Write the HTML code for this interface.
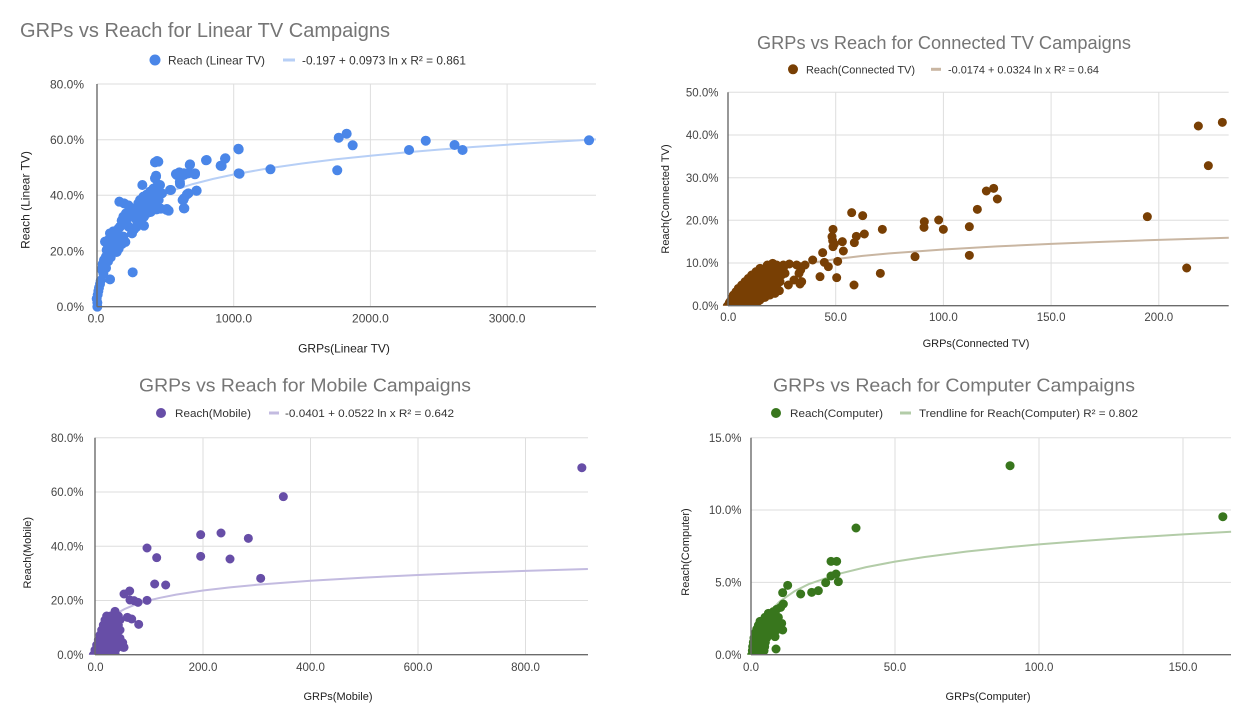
<!DOCTYPE html>
<html><head><meta charset="utf-8"><style>
html,body{margin:0;padding:0;background:#fff;}
svg{display:block;font-family:"Liberation Sans",Arial,sans-serif;}
.t{fill:#757575;}
.tk{fill:#444;}
.lg{fill:#333;}
.ax{fill:#222;}
.g{stroke:#dedede;stroke-width:1;}
.a{stroke:#6b6b6b;stroke-width:1.4;}
</style></head><body>
<svg width="1256" height="718" viewBox="0 0 1256 718" xmlns="http://www.w3.org/2000/svg">
<rect width="1256" height="718" fill="#fff"/>
<defs>
<clipPath id="c1"><rect x="80" y="70" width="530" height="237"/></clipPath>
<clipPath id="c2"><rect x="715" y="80" width="530" height="225.7"/></clipPath>
<clipPath id="c3"><rect x="85" y="425" width="520" height="229.7"/></clipPath>
<clipPath id="c4"><rect x="740" y="425" width="505" height="229.7"/></clipPath>
</defs>

<!-- ================= CHART 1: Linear TV ================= -->
<text class="t" x="20" y="37" font-size="20" textLength="370" lengthAdjust="spacingAndGlyphs">GRPs vs Reach for Linear TV Campaigns</text>
<circle cx="155" cy="60" r="5.5" fill="#4a86e8"/>
<text class="lg" x="168" y="64.3" font-size="12" textLength="97" lengthAdjust="spacingAndGlyphs">Reach (Linear TV)</text>
<line x1="283" y1="60" x2="295" y2="60" stroke="#b7cff6" stroke-width="3"/>
<text class="lg" x="302" y="64.3" font-size="12" textLength="164" lengthAdjust="spacingAndGlyphs">-0.197 + 0.0973 ln x R² = 0.861</text>
<g>
<line class="g" x1="97" y1="84" x2="596" y2="84"/>
<line class="g" x1="97" y1="139.7" x2="596" y2="139.7"/>
<line class="g" x1="97" y1="195.3" x2="596" y2="195.3"/>
<line class="g" x1="97" y1="251" x2="596" y2="251"/>
<line class="g" x1="233.7" y1="84" x2="233.7" y2="306.7"/>
<line class="g" x1="370.4" y1="84" x2="370.4" y2="306.7"/>
<line class="g" x1="507.1" y1="84" x2="507.1" y2="306.7"/>
</g>
<g class="tk" font-size="12" text-anchor="end">
<text x="84" y="88.3">80.0%</text>
<text x="84" y="144">60.0%</text>
<text x="84" y="199.6">40.0%</text>
<text x="84" y="255.3">20.0%</text>
<text x="84" y="311">0.0%</text>
</g>
<g class="tk" font-size="12" text-anchor="middle">
<text x="96" y="322.5">0.0</text>
<text x="233.7" y="322.5">1000.0</text>
<text x="370.4" y="322.5">2000.0</text>
<text x="507.1" y="322.5">3000.0</text>
</g>
<text class="ax" x="344" y="352.5" font-size="12" text-anchor="middle">GRPs(Linear TV)</text>
<text class="ax" transform="translate(29.5,200) rotate(-90)" font-size="12" text-anchor="middle">Reach (Linear TV)</text>
<polyline fill="none" stroke="#b7cff6" stroke-width="2" stroke-linejoin="round" points="98.03,306.7 98.37,299.2 99.73,280.4 103.84,255.6 110.67,236.8 124.34,218.1 138,207.1 151.68,199.3 172.2,190.6 192.69,184.1 213.2,178.9 233.7,174.5 267.9,168.4 302.05,163.5 336.2,159.3 370.4,155.7 404.6,152.5 438.75,149.6 472.9,147 507.1,144.7 548.1,142.1 595.95,139.4"/>
<g stroke="#4a86e8" stroke-linecap="round" fill="none">
<path transform="translate(40,60) scale(0.33333)" stroke-width="30" d="M172 740h.1M172 728h.1M170 716h.1M173 704h.1M175 693h.1M177 683h.1M180 672h.1M182 662h.1M210 658h.1M278 637h.1M185 628h.1M188 612h.1M192 600h.1M198 590h.1M204 604h.1M198 624h.1M190 640h.1M206 584h.1M212 592h.1M200 570h.1M195 545h.1M205 540h.1M216 548h.1M226 560h.1M236 566h.1M246 552h.1M256 546h.1M225 530h.1M240 540h.1M230 576h.1M215 570h.1M210 520h.1M220 514h.1M232 520h.1M250 530h.1M240 500h.1M250 490h.1M260 480h.1M266 500h.1M276 520h.1M282 508h.1M270 470h.1M280 460h.1M290 480h.1M300 470h.1M290 500h.1M300 440h.1M306 456h.1M312 470h.1M312 497h.1M320 460h.1M326 445h.1M332 456h.1M250 470h.1M245 482h.1M236 505h.1M258 460h.1M268 450h.1M285 445h.1M295 430h.1M238 425h.1M252 430h.1M265 436h.1M300 420h.1M310 410h.1M320 404h.1M330 395h.1M340 386h.1M350 380h.1M355 396h.1M345 410h.1M335 420h.1M325 430h.1M315 440h.1M360 375h.1M307 375h.1M340 430h.1M350 448h.1M362 446h.1M380 450h.1M386 452h.1M356 420h.1M366 400h.1M345 355h.1M348 350h.1M345 307h.1M355 305h.1M393 390h.1M410 345h.1M418 337h.1M432 345h.1M445 340h.1M465 340h.1M420 372h.1M470 392h.1M445 400h.1M432 415h.1M430 420h.1M433 445h.1M500 300h.1M545 318h.1M555 296h.1M450 313h.1M596 268h.1M596 340h.1"/>
<path stroke-width="10" d="M238.3 148.7h.1M239.5 173.7h.1M270.4 169.3h.1M337.2 170.3h.1M338.7 137.7h.1M346.6 133.7h.1M352.6 145.3h.1M409 150h.1M425.7 140.7h.1M454.5 145h.1M462.5 150h.1M589 140.3h.1M206 160.3h.1M220.6 165.7h.1M225.3 158.3h.1M194.9 174.3h.1M189.7 165h.1M196.4 190.7h.1M183.8 173.3h.1M179.8 181.7h.1M182.6 200h.1M187 194.3h.1M183.8 208.3h.1M175.9 174h.1M170 190h.1M166.8 209h.1M157 161h.1M156 175.7h.1"/>
</g>
<line class="a" x1="97" y1="84" x2="97" y2="306.7"/>
<line class="a" x1="97" y1="306.7" x2="596" y2="306.7"/>

<!-- ================= CHART 2: Connected TV ================= -->
<text class="t" x="757" y="49" font-size="18" textLength="374" lengthAdjust="spacingAndGlyphs">GRPs vs Reach for Connected TV Campaigns</text>
<circle cx="793" cy="69.3" r="5" fill="#783f04"/>
<text class="lg" x="806" y="73.3" font-size="11" textLength="109" lengthAdjust="spacingAndGlyphs">Reach(Connected TV)</text>
<line x1="931" y1="69.3" x2="941" y2="69.3" stroke="#c9b6a2" stroke-width="3"/>
<text class="lg" x="948" y="73.3" font-size="11" textLength="151" lengthAdjust="spacingAndGlyphs">-0.0174 + 0.0324 ln x R² = 0.64</text>
<g>
<line class="g" x1="728" y1="92.3" x2="1228.7" y2="92.3"/>
<line class="g" x1="728" y1="135" x2="1228.7" y2="135"/>
<line class="g" x1="728" y1="177.7" x2="1228.7" y2="177.7"/>
<line class="g" x1="728" y1="220.3" x2="1228.7" y2="220.3"/>
<line class="g" x1="728" y1="263" x2="1228.7" y2="263"/>
<line class="g" x1="835.7" y1="92.3" x2="835.7" y2="305.7"/>
<line class="g" x1="943.4" y1="92.3" x2="943.4" y2="305.7"/>
<line class="g" x1="1051.1" y1="92.3" x2="1051.1" y2="305.7"/>
<line class="g" x1="1158.8" y1="92.3" x2="1158.8" y2="305.7"/>
</g>
<g class="tk" font-size="11.5" text-anchor="end">
<text x="718.5" y="96.4">50.0%</text>
<text x="718.5" y="139.1">40.0%</text>
<text x="718.5" y="181.8">30.0%</text>
<text x="718.5" y="224.4">20.0%</text>
<text x="718.5" y="267.1">10.0%</text>
<text x="718.5" y="309.8">0.0%</text>
</g>
<g class="tk" font-size="11.5" text-anchor="middle">
<text x="728.3" y="321">0.0</text>
<text x="835.7" y="321">50.0</text>
<text x="943.4" y="321">100.0</text>
<text x="1051.1" y="321">150.0</text>
<text x="1158.8" y="321">200.0</text>
</g>
<text class="ax" x="976" y="347" font-size="11" text-anchor="middle">GRPs(Connected TV)</text>
<text class="ax" transform="translate(669,199) rotate(-90)" font-size="11" text-anchor="middle">Reach(Connected TV)</text>
<polyline fill="none" stroke="#c9b6a2" stroke-width="2" stroke-linejoin="round" points="730.7,305.7 732.3,303.5 738.8,290.9 749.5,281.3 758.2,276.7 771.1,271.7 786.2,267.5 803.4,264 835.7,259.1 862.6,255.9 889.6,253.4 943.4,249.5 997.25,246.4 1051.1,243.9 1105,241.7 1158.8,239.9 1228.8,237.8"/>
<g stroke="#783f04" stroke-linecap="round" fill="none" clip-path="url(#c2)">
<g transform="translate(650,60) scale(0.33333)">
<path stroke-width="27" d="M605 458h.1M638 467h.1M549 508h.1M697 508h.1M548 542h.1M553 552h.1M549 560h.1M546 530h.1M577 545h.1M580 573h.1M619 529h.1M643 522h.1M613 548h.1M518 578h.1M488 600h.1M523 607h.1M535 620h.1M563 604h.1M510 650h.1M560 653h.1M612 675h.1M691 640h.1M465 615h.1M440 615h.1M450 620h.1M452 630h.1M447 640h.1M418 612h.1M388 637h.1M415 675h.1M450 672h.1M455 665h.1M432 660h.1M795 590h.1M823 485h.1M822 502h.1M866 480h.1M880 508h.1M388 692h.1
M232 738h.1M238 728h.1M235 735h.1M245 735h.1M255 735h.1M265 735h.1M275 735h.1M285 735h.1M295 735h.1M305 735h.1M240 725h.1M250 725h.1M260 725h.1M270 725h.1M280 725h.1M290 725h.1M300 725h.1M310 725h.1M320 725h.1M245 715h.1M255 715h.1M265 715h.1M275 715h.1M285 715h.1M295 715h.1M305 715h.1M315 715h.1M325 715h.1M335 715h.1M250 705h.1M262 705h.1M274 705h.1M286 705h.1M298 705h.1M310 705h.1M322 705h.1M334 705h.1M346 705h.1M258 695h.1M270 695h.1M282 695h.1M294 695h.1M306 695h.1M318 695h.1M330 695h.1M342 695h.1M356 695h.1M370 695h.1M265 685h.1M277 685h.1M289 685h.1M301 685h.1M313 685h.1M325 685h.1M337 685h.1M350 685h.1M362 685h.1M376 685h.1M275 675h.1M290 675h.1M305 675h.1M320 675h.1M335 675h.1M350 675h.1M365 675h.1M380 675h.1M285 665h.1M300 665h.1M315 665h.1M330 665h.1M345 665h.1M360 665h.1M375 665h.1M390 665h.1M295 655h.1M310 655h.1M325 655h.1M340 655h.1M355 655h.1M370 655h.1M385 655h.1M305 645h.1M320 645h.1M335 645h.1M350 645h.1M362 645h.1M378 645h.1M395 645h.1M318 635h.1M332 635h.1M346 635h.1M360 635h.1M372 635h.1M390 635h.1M330 625h.1M345 625h.1M358 625h.1M372 625h.1M385 625h.1M400 625h.1M352 615h.1M368 615h.1M380 615h.1M368 610h.1M405 640h.1M400 615h.1M375 700h.1M360 705h.1M345 712h.1M330 720h.1M320 735h.1M300 740h.1"/>
</g>
<g transform="translate(956,60) scale(0.33333)">
<path stroke-width="27" d="M40 500h.1M40 586h.1M64 448h.1M91 393h.1M113 385h.1M124 417h.1M574 470h.1M692 624h.1M727 198h.1M757 317h.1M799 187h.1"/>
</g>
</g>
<line class="a" x1="728" y1="92.3" x2="728" y2="305.7"/>
<line class="a" x1="728" y1="305.7" x2="1228.7" y2="305.7"/>

<!-- ================= CHART 3: Mobile ================= -->
<text class="t" x="139" y="391.5" font-size="18" textLength="332" lengthAdjust="spacingAndGlyphs">GRPs vs Reach for Mobile Campaigns</text>
<circle cx="161" cy="413" r="5" fill="#674ea7"/>
<text class="lg" x="175" y="417" font-size="11" textLength="76" lengthAdjust="spacingAndGlyphs">Reach(Mobile)</text>
<line x1="269" y1="413" x2="279" y2="413" stroke="#c3bbe0" stroke-width="3"/>
<text class="lg" x="285" y="417" font-size="11" textLength="169" lengthAdjust="spacingAndGlyphs">-0.0401 + 0.0522 ln x R² = 0.642</text>
<g>
<line class="g" x1="95" y1="437.7" x2="588" y2="437.7"/>
<line class="g" x1="95" y1="492" x2="588" y2="492"/>
<line class="g" x1="95" y1="546.2" x2="588" y2="546.2"/>
<line class="g" x1="95" y1="600.5" x2="588" y2="600.5"/>
<line class="g" x1="203" y1="437.7" x2="203" y2="654.7"/>
<line class="g" x1="310.5" y1="437.7" x2="310.5" y2="654.7"/>
<line class="g" x1="418" y1="437.7" x2="418" y2="654.7"/>
<line class="g" x1="525.5" y1="437.7" x2="525.5" y2="654.7"/>
</g>
<g class="tk" font-size="11.5" text-anchor="end">
<text x="83.5" y="441.8">80.0%</text>
<text x="83.5" y="496.1">60.0%</text>
<text x="83.5" y="550.3">40.0%</text>
<text x="83.5" y="604.6">20.0%</text>
<text x="83.5" y="658.8">0.0%</text>
</g>
<g class="tk" font-size="11.5" text-anchor="middle">
<text x="95.5" y="671">0.0</text>
<text x="203" y="671">200.0</text>
<text x="310.5" y="671">400.0</text>
<text x="418" y="671">600.0</text>
<text x="525.5" y="671">800.0</text>
</g>
<text class="ax" x="338" y="700" font-size="11" text-anchor="middle">GRPs(Mobile)</text>
<text class="ax" transform="translate(31,552.7) rotate(-90)" font-size="11" text-anchor="middle">Reach(Mobile)</text>
<polyline fill="none" stroke="#c3bbe0" stroke-width="2" stroke-linejoin="round" points="96.6,654.7 97.1,650 98.2,642.8 100.9,633 106.25,623.2 111.6,617.4 117,613.3 125.1,608.8 133.1,605.4 149.25,600.4 160,597.8 176.1,594.6 203,590.5 229.9,587.4 256.75,584.8 310.5,580.7 364.25,577.6 418,575 471.75,572.8 525.5,570.9 587.9,569"/>
<g stroke="#674ea7" stroke-linecap="round" fill="none" clip-path="url(#c3)">
<g transform="translate(40,400) scale(0.33333)">
<path stroke-width="27" d="M730 290h.1M482 404h.1M543 399h.1M625 415h.1M482 469h.1M570 477h.1M662 535h.1M321 444h.1M350 473h.1M344 552h.1M377 555h.1M321 601h.1M252 582h.1M269 573h.1M270 600h.1M282 602h.1M294 607h.1M262 652h.1M275 657h.1M296 673h.1M225 634h.1M250 742h.1M240 715h.1M245 730h.1
M160 765h.1M170 765h.1M180 765h.1M190 765h.1M200 765h.1M165 750h.1M175 750h.1M185 750h.1M195 750h.1M205 750h.1M215 750h.1M170 735h.1M180 735h.1M190 735h.1M200 735h.1M210 735h.1M220 735h.1M235 735h.1M175 720h.1M185 720h.1M195 720h.1M205 720h.1M215 720h.1M225 720h.1M240 720h.1M180 705h.1M190 705h.1M200 705h.1M210 705h.1M220 705h.1M232 705h.1M185 690h.1M195 690h.1M205 690h.1M215 690h.1M228 690h.1M240 690h.1M190 675h.1M200 675h.1M210 675h.1M222 675h.1M235 675h.1M195 660h.1M205 660h.1M215 660h.1M228 660h.1M240 660h.1M200 648h.1M212 648h.1M225 648h.1M235 648h.1M248 728h.1M252 742h.1M230 745h.1M225 760h.1M215 765h.1"/>
</g>
<path stroke-width="9" d="M581.8 467.7h.1"/>
</g>
<line class="a" x1="95" y1="437.7" x2="95" y2="654.7"/>
<line class="a" x1="95" y1="654.7" x2="588" y2="654.7"/>

<!-- ================= CHART 4: Computer ================= -->
<text class="t" x="773" y="391.5" font-size="18" textLength="362" lengthAdjust="spacingAndGlyphs">GRPs vs Reach for Computer Campaigns</text>
<circle cx="776" cy="413" r="5" fill="#38761d"/>
<text class="lg" x="790" y="417" font-size="11" textLength="93" lengthAdjust="spacingAndGlyphs">Reach(Computer)</text>
<line x1="900" y1="413" x2="911" y2="413" stroke="#b3cca8" stroke-width="3"/>
<text class="lg" x="919" y="417" font-size="11" textLength="219" lengthAdjust="spacingAndGlyphs">Trendline for Reach(Computer) R² = 0.802</text>
<g>
<line class="g" x1="751" y1="437.7" x2="1231" y2="437.7"/>
<line class="g" x1="751" y1="510" x2="1231" y2="510"/>
<line class="g" x1="751" y1="582.4" x2="1231" y2="582.4"/>
<line class="g" x1="895" y1="437.7" x2="895" y2="654.7"/>
<line class="g" x1="1039" y1="437.7" x2="1039" y2="654.7"/>
<line class="g" x1="1183" y1="437.7" x2="1183" y2="654.7"/>
</g>
<g class="tk" font-size="11.5" text-anchor="end">
<text x="741.5" y="441.8">15.0%</text>
<text x="741.5" y="514.1">10.0%</text>
<text x="741.5" y="586.5">5.0%</text>
<text x="741.5" y="658.8">0.0%</text>
</g>
<g class="tk" font-size="11.5" text-anchor="middle">
<text x="751" y="671">0.0</text>
<text x="895" y="671">50.0</text>
<text x="1039" y="671">100.0</text>
<text x="1183" y="671">150.0</text>
</g>
<text class="ax" x="988" y="700" font-size="11" text-anchor="middle">GRPs(Computer)</text>
<text class="ax" transform="translate(689,552) rotate(-90)" font-size="11" text-anchor="middle">Reach(Computer)</text>
<polyline fill="none" stroke="#b3cca8" stroke-width="2" stroke-linejoin="round" points="754.3,654.7 755.3,648.3 756.8,641.2 759.6,631.1 765.4,618.5 771.2,610.2 779.8,601.4 794.2,591.4 808.6,584.2 837.4,574.2 866.2,567.1 895,561.6 923.8,557.1 967,551.5 1010.2,547 1039,544.4 1082.2,541 1125.4,537.9 1183,534.4 1231.1,531.8"/>
<g stroke="#38761d" stroke-linecap="round" fill="none" clip-path="url(#c4)">
<g transform="translate(660,400) scale(0.33333)">
<path stroke-width="27" d="M588 384h.1M383 556h.1M368 578h.1M422 582h.1M455 577h.1M475 572h.1M497 548h.1M513 484h.1M530 484h.1M513 528h.1M528 522h.1M535 545h.1M370 612h.1M362 622h.1M350 628h.1M340 635h.1M365 670h.1M368 690h.1M345 710h.1M348 747h.1
M275 765h.1M283 765h.1M292 765h.1M300 765h.1M277 752h.1M285 752h.1M294 752h.1M303 752h.1M312 752h.1M278 740h.1M287 740h.1M296 740h.1M305 740h.1M314 740h.1M280 727h.1M289 727h.1M298 727h.1M307 727h.1M316 727h.1M282 714h.1M291 714h.1M300 714h.1M310 714h.1M320 714h.1M285 700h.1M295 700h.1M305 700h.1M315 700h.1M325 700h.1M290 688h.1M300 688h.1M310 688h.1M320 688h.1M330 688h.1M340 688h.1M295 676h.1M305 676h.1M315 676h.1M325 676h.1M335 676h.1M300 664h.1M310 664h.1M320 664h.1M330 664h.1M340 664h.1M350 664h.1M315 652h.1M325 652h.1M335 652h.1M345 652h.1M355 652h.1M325 640h.1M335 640h.1M345 640h.1M355 675h.1M350 690h.1"/>
</g>
<path stroke-width="9" d="M1010 465.7h.1M1222.8 516.7h.1"/>
</g>
<line class="a" x1="751" y1="437.7" x2="751" y2="654.7"/>
<line class="a" x1="751" y1="654.7" x2="1231" y2="654.7"/>
</svg>
</body></html>
